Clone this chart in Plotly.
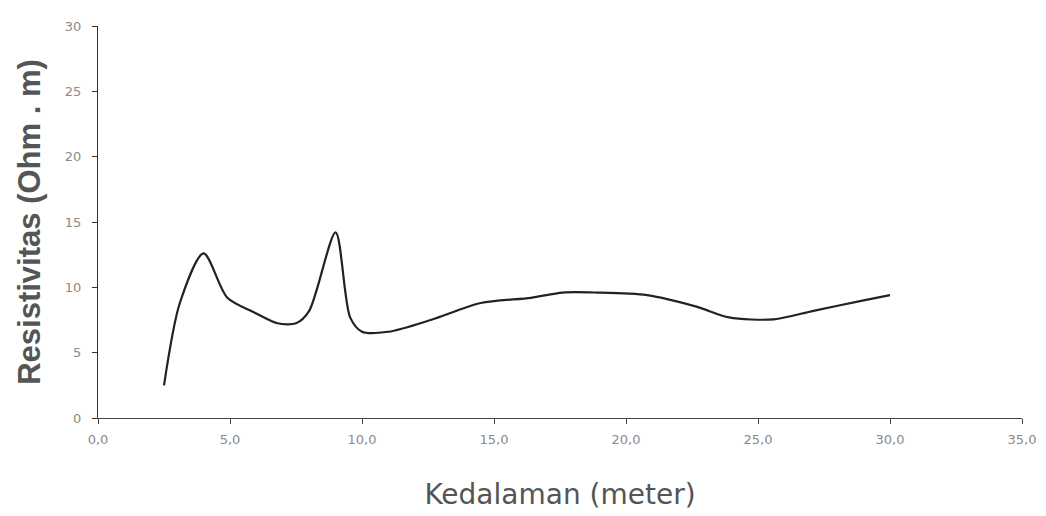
import plotly.graph_objects as go

depth = [2.5, 3.1, 4.0, 4.9, 5.9, 6.8, 7.5, 8.0, 9.0, 9.55, 10.0, 11.0, 12.6, 14.5, 16.4, 17.6, 18.9, 20.8, 22.7, 23.9, 25.6, 27.1, 29.0, 30.0]
resist = [2.5, 8.8, 12.6, 9.2, 8.1, 7.25, 7.25, 8.2, 14.2, 7.7, 6.6, 6.6, 7.5, 8.8, 9.2, 9.6, 9.6, 9.4, 8.5, 7.7, 7.55, 8.2, 9.0, 9.4]

x_ticks = [0, 5, 10, 15, 20, 25, 30, 35]
x_ticktext = ["0,0", "5,0", "10,0", "15,0", "20,0", "25,0", "30,0", "35,0"]
y_ticks = [0, 5, 10, 15, 20, 25, 30]

fig = go.Figure()
fig.add_trace(go.Scatter(
    x=depth, y=resist, mode="lines",
    line=dict(color="#222222", width=2.2, shape="spline", smoothing=0.8),
    showlegend=False,
))

fig.update_layout(
    width=1046, height=516,
    margin=dict(l=90, r=32, t=11, b=106),
    paper_bgcolor="white", plot_bgcolor="white",
    font=dict(family="DejaVu Sans, Arial", color="#777777"),
)
fig.update_xaxes(
    range=[0, 35], tickvals=x_ticks, ticktext=x_ticktext,
    showgrid=False, zeroline=False,
    showline=True, linecolor="#444444", linewidth=1.2,
    ticks="outside", ticklen=5, tickcolor="#444444",
    ticklabelstandoff=4,
    tickfont=dict(size=13, color="#8a8a8a"),
    title=dict(text="Kedalaman (meter)", font=dict(family="DejaVu Sans", size=28, color="#555555"), standoff=38),
)
fig.update_yaxes(
    range=[0, 30], tickvals=y_ticks,
    showgrid=False, zeroline=False,
    showline=True, linecolor="#333333", linewidth=1.2,
    ticks="outside", ticklen=5, tickcolor="#333333",
    ticklabelstandoff=8,
    tickfont=dict(size=13, color="#8a8a8a"),
    title=dict(text="<b>Resistivitas (Ohm . m)</b>", font=dict(family="Liberation Sans, Arial", size=31, color="#555555"), standoff=14),
)

fig.write_html("out.html")
